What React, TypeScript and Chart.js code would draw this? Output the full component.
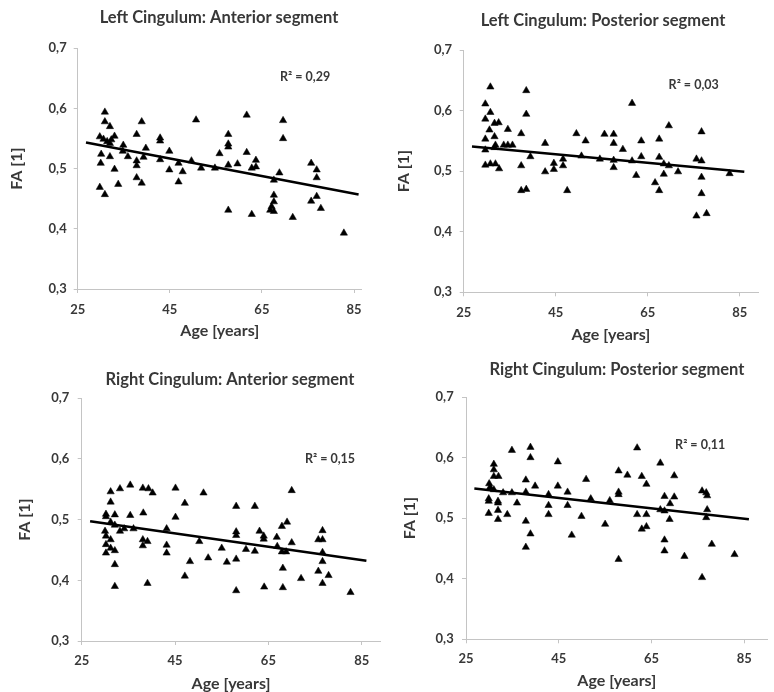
import React, { useEffect, useRef } from "react";
import { Chart, registerables } from "chart.js";
Chart.register(...registerables);

// ---------- data ----------
const titles = [
  "Left Cingulum: Anterior segment",
  "Left Cingulum: Posterior segment",
  "Right Cingulum: Anterior segment",
  "Right Cingulum: Posterior segment",
];
const r2Labels = ["R² = 0,29", "R² = 0,03", "R² = 0,15", "R² = 0,11"];
const xTickValues = [25, 45, 65, 85];
const yTickValues = [0.3, 0.4, 0.5, 0.6, 0.7];
const xAxisTitle = "Age [years]";
const yAxisTitle = "FA [1]";

// Left cingulum, anterior segment
const laAges = [30.9, 30.9, 32.0, 29.8, 30.6, 31.4, 33.0, 32.0, 30.1, 32.0, 30.0, 29.8, 30.9, 33.0, 33.8, 34.9, 35.9, 37.8, 38.9, 37.8, 37.8, 37.8, 38.9, 39.8, 39.3, 42.9, 42.9, 42.9, 44.9, 44.9, 46.9, 46.9, 47.8, 49.7, 50.7, 51.8, 54.8, 55.8, 57.7, 57.7, 57.7, 57.7, 57.7, 59.7, 61.7, 61.7, 62.8, 62.8, 63.7, 63.7, 66.8, 67.1, 67.6, 67.6, 67.6, 67.6, 68.8, 69.6, 69.6, 71.7, 75.7, 75.7, 76.9, 76.9, 76.9, 77.8, 82.8, 32.3, 34.8];
const laFA = [0.594, 0.578, 0.570, 0.553, 0.549, 0.545, 0.554, 0.542, 0.524, 0.520, 0.509, 0.469, 0.457, 0.499, 0.474, 0.539, 0.520, 0.557, 0.578, 0.513, 0.505, 0.485, 0.476, 0.534, 0.519, 0.551, 0.546, 0.515, 0.529, 0.498, 0.509, 0.478, 0.495, 0.513, 0.581, 0.501, 0.501, 0.525, 0.557, 0.541, 0.536, 0.506, 0.431, 0.508, 0.589, 0.527, 0.501, 0.424, 0.514, 0.503, 0.431, 0.437, 0.456, 0.445, 0.429, 0.481, 0.493, 0.580, 0.550, 0.419, 0.509, 0.446, 0.498, 0.485, 0.454, 0.434, 0.393, 0.548, 0.529];

// Left cingulum, posterior segment
const lpAges = [30.8, 29.7, 29.7, 30.8, 30.6, 31.7, 32.6, 29.7, 31.7, 29.7, 31.7, 31.9, 29.7, 30.8, 31.9, 32.7, 33.7, 34.6, 35.6, 34.6, 37.5, 38.6, 38.6, 37.5, 37.5, 38.6, 39.5, 42.7, 42.7, 44.6, 44.6, 46.6, 46.6, 47.5, 49.5, 50.6, 51.5, 54.6, 55.6, 57.6, 57.6, 57.6, 57.6, 59.6, 61.6, 61.6, 62.5, 63.6, 63.6, 66.6, 67.5, 67.5, 67.5, 68.5, 68.5, 69.6, 69.6, 71.6, 75.6, 75.6, 76.7, 76.7, 76.7, 76.7, 77.8, 82.8];
const lpFA = [0.639, 0.611, 0.586, 0.597, 0.568, 0.579, 0.580, 0.553, 0.557, 0.535, 0.539, 0.543, 0.510, 0.512, 0.512, 0.504, 0.543, 0.543, 0.543, 0.569, 0.562, 0.633, 0.594, 0.509, 0.468, 0.470, 0.524, 0.546, 0.499, 0.513, 0.503, 0.520, 0.509, 0.468, 0.562, 0.525, 0.550, 0.520, 0.561, 0.561, 0.546, 0.518, 0.506, 0.536, 0.612, 0.517, 0.493, 0.550, 0.524, 0.481, 0.553, 0.523, 0.468, 0.512, 0.495, 0.575, 0.509, 0.499, 0.520, 0.426, 0.565, 0.517, 0.490, 0.463, 0.430, 0.496];

// Right cingulum, anterior segment
const raAges = [31.2, 33.2, 35.4, 38.1, 39.3, 40.2, 31.2, 30.2, 30.2, 32.1, 35.4, 38.2, 31.2, 32.1, 33.2, 34.1, 36.1, 30.0, 30.2, 30.2, 30.2, 31.2, 31.2, 32.1, 32.1, 32.1, 38.1, 38.1, 39.1, 39.1, 43.2, 43.2, 43.2, 45.1, 45.1, 47.1, 47.1, 48.2, 50.2, 51.1, 52.1, 55.0, 56.1, 58.1, 58.1, 58.1, 58.1, 58.1, 60.2, 62.1, 62.1, 63.1, 64.0, 64.0, 64.1, 66.8, 67.9, 69.0, 66.9, 67.9, 68.8, 68.1, 68.1, 70.0, 70.0, 72.0, 75.7, 76.6, 76.6, 76.6, 76.6, 75.7, 76.6, 77.9, 82.6];
const raFA = [0.546, 0.551, 0.557, 0.552, 0.551, 0.544, 0.529, 0.509, 0.505, 0.508, 0.507, 0.511, 0.496, 0.491, 0.481, 0.485, 0.485, 0.481, 0.473, 0.459, 0.445, 0.467, 0.453, 0.449, 0.426, 0.390, 0.467, 0.457, 0.464, 0.395, 0.485, 0.458, 0.445, 0.552, 0.504, 0.527, 0.407, 0.431, 0.464, 0.544, 0.437, 0.453, 0.430, 0.522, 0.480, 0.474, 0.435, 0.383, 0.451, 0.522, 0.448, 0.481, 0.473, 0.468, 0.389, 0.471, 0.489, 0.496, 0.456, 0.447, 0.447, 0.420, 0.388, 0.548, 0.462, 0.403, 0.467, 0.482, 0.467, 0.446, 0.431, 0.415, 0.395, 0.408, 0.380];

// Right cingulum, posterior segment
const rpAges = [31.0, 31.0, 31.0, 32.0, 30.0, 30.2, 31.0, 33.0, 34.9, 34.9, 36.0, 29.9, 29.9, 31.9, 31.9, 29.9, 31.9, 31.9, 33.9, 37.9, 37.9, 38.9, 38.9, 39.9, 37.9, 38.9, 37.9, 42.8, 42.8, 42.8, 44.8, 44.8, 46.9, 46.9, 47.8, 49.9, 50.9, 51.9, 55.0, 56.0, 57.9, 57.9, 57.9, 57.9, 59.8, 61.9, 61.9, 62.9, 62.9, 63.9, 63.9, 63.9, 66.9, 66.9, 67.8, 67.8, 67.8, 67.8, 68.9, 69.0, 69.9, 69.9, 72.1, 75.9, 76.8, 77.0, 77.0, 76.8, 78.0, 75.9, 82.9];
const rpFA = [0.589, 0.580, 0.569, 0.569, 0.557, 0.551, 0.547, 0.542, 0.612, 0.542, 0.525, 0.532, 0.528, 0.528, 0.525, 0.508, 0.513, 0.498, 0.506, 0.563, 0.543, 0.617, 0.600, 0.553, 0.495, 0.474, 0.452, 0.539, 0.521, 0.506, 0.593, 0.553, 0.543, 0.521, 0.472, 0.503, 0.564, 0.532, 0.490, 0.529, 0.578, 0.543, 0.539, 0.432, 0.571, 0.616, 0.506, 0.569, 0.482, 0.556, 0.506, 0.486, 0.591, 0.514, 0.536, 0.512, 0.464, 0.446, 0.498, 0.524, 0.570, 0.535, 0.437, 0.545, 0.542, 0.537, 0.514, 0.501, 0.457, 0.402, 0.440];

// linear trend lines: [intercept, slope] and the age range they span
const trendLA = [0.5824, -0.001458];
const trendLP = [0.5596, -0.000705];
const trendRA = [0.5268, -0.0011];
const trendRP = [0.5719, -0.000856];
const trendRange = [26.8, 86.0];

// ---------- styling / layout ----------
const FONT = "Lato, 'Open Sans', 'DejaVu Sans', sans-serif";
const TEXT = "#383838";
const AXIS = "#c4c4c4";
const TICK_LEN = 4;
const TICK_SIZE = 13;
const AXIS_TITLE_SIZE = 16;
const TITLE_SIZE = 16.5;
const R2_SIZE = 12.5;

type PanelCfg = {
  title: string;
  ages: number[];
  fa: number[];
  trend: number[];
  r2: string;
  r2At: number[];
  xMax: number;
  box: number[];
  plotLeft: number;
  plotTop: number;
  plotBottom: number;
  pxPerYear: number;
  titleX: number;
  titleY: number;
  xLabelY: number;
  xTitleY: number;
  yTitleX: number;
  yLabelRight: number;
};

const panels: PanelCfg[] = [
  {
    title: titles[0], ages: laAges, fa: laFA, trend: trendLA, r2: r2Labels[0], r2At: [74.4, 0.652], xMax: 86.7,
    box: [0, 0, 387, 346], plotLeft: 77.7, plotTop: 48.3, plotBottom: 289, pxPerYear: 4.605,
    titleX: 219, titleY: 18, xLabelY: 310, xTitleY: 331, yTitleX: 16.7, yLabelRight: 66.7,
  },
  {
    title: titles[1], ages: lpAges, fa: lpFA, trend: trendLP, r2: r2Labels[1], r2At: [75.0, 0.642], xMax: 89,
    box: [387, 0, 387, 346], plotLeft: 463.7, plotTop: 50, plotBottom: 292.3, pxPerYear: 4.6,
    titleX: 603, titleY: 21, xLabelY: 313, xTitleY: 335, yTitleX: 403.7, yLabelRight: 452,
  },
  {
    title: titles[2], ages: raAges, fa: raFA, trend: trendRA, r2: r2Labels[2], r2At: [78.2, 0.6], xMax: 89,
    box: [0, 346, 387, 360], plotLeft: 81.7, plotTop: 398.3, plotBottom: 641, pxPerYear: 4.667,
    titleX: 230, titleY: 379.3, xLabelY: 661, xTitleY: 684.3, yTitleX: 25, yLabelRight: 69.3,
  },
  {
    title: titles[3], ages: rpAges, fa: rpFA, trend: trendRP, r2: r2Labels[3], r2At: [75.5, 0.621], xMax: 90,
    box: [387, 346, 387, 360], plotLeft: 466, plotTop: 397, plotBottom: 639.3, pxPerYear: 4.638,
    titleX: 617, titleY: 369.3, xLabelY: 659.3, xTitleY: 681, yTitleX: 410.3, yLabelRight: 453.7,
  },
];

function Panel({ p }: { p: PanelCfg }) {
  const ref = useRef<HTMLCanvasElement>(null);
  const [bx, by, bw, bh] = p.box;

  useEffect(() => {
    const plotL = p.plotLeft - bx;
    const plotR = p.plotLeft + (p.xMax - 25) * p.pxPerYear - bx;
    const plotT = p.plotTop - by;
    const plotB = p.plotBottom - by;
    const titleLH = AXIS_TITLE_SIZE * 1.2;
    const padLeft = p.yTitleX - bx - titleLH / 2;
    const yWidth = plotL - padLeft;
    const yTickPad = plotL - TICK_LEN - (p.yLabelRight - bx);
    const xTickPad = p.xLabelY - by - plotB - TICK_LEN - (TICK_SIZE * 1.2) / 2;
    const xHeight = p.xTitleY - by - plotB + titleLH / 2;
    const padBottom = bh - plotB - xHeight;
    const padRight = bw - plotR;

    const points = p.ages.map((a, i) => ({ x: a, y: p.fa[i] }));
    const trendPts = trendRange.map((a) => ({ x: a, y: p.trend[0] + p.trend[1] * a }));

    const textPlugin = {
      id: "panelText",
      afterDraw(chart: any) {
        const ctx = chart.ctx;
        ctx.save();
        ctx.fillStyle = TEXT;
        ctx.textAlign = "center";
        ctx.textBaseline = "middle";
        ctx.font = `bold ${TITLE_SIZE}px ${FONT}`;
        ctx.fillText(p.title, p.titleX - bx, p.titleY - by);
        ctx.font = `bold ${R2_SIZE}px ${FONT}`;
        const xs = chart.scales.x;
        const ys = chart.scales.y;
        ctx.fillText(p.r2, xs.getPixelForValue(p.r2At[0]), ys.getPixelForValue(p.r2At[1]));
        ctx.restore();
      },
    };

    const tickFont = { family: FONT, size: TICK_SIZE, weight: "bold" as const };
    const titleFont = { family: FONT, size: AXIS_TITLE_SIZE, weight: "bold" as const };

    const chart = new Chart(ref.current as HTMLCanvasElement, {
      type: "scatter",
      data: {
        datasets: [
          {
            data: trendPts,
            showLine: true,
            pointRadius: 0,
            borderColor: "#000",
            backgroundColor: "#000",
            borderWidth: 2.6,
            fill: false,
          },
          {
            data: points,
            pointStyle: "triangle",
            pointRadius: 4.2,
            backgroundColor: "#000",
            borderColor: "#000",
            borderWidth: 0.5,
            showLine: false,
          },
        ],
      },
      options: {
        responsive: false,
        animation: false,
        events: [],
        layout: { padding: { left: padLeft, right: padRight, top: plotT, bottom: padBottom } },
        plugins: {
          legend: { display: false },
          tooltip: { enabled: false },
          title: { display: false },
        },
        scales: {
          x: {
            type: "linear",
            min: 25,
            max: p.xMax,
            afterBuildTicks: (s: any) => {
              s.ticks = xTickValues.map((v) => ({ value: v }));
            },
            afterFit: (s: any) => {
              s.height = xHeight;
              s.paddingLeft = 0;
              s.paddingRight = 0;
            },
            grid: { drawOnChartArea: false, drawTicks: true, tickLength: TICK_LEN, color: AXIS, lineWidth: 1 },
            border: { display: true, color: AXIS, width: 1 },
            ticks: {
              padding: xTickPad,
              font: tickFont,
              color: TEXT,
              maxRotation: 0,
              autoSkip: false,
              callback: (v: any) => String(v),
            },
            title: { display: true, text: xAxisTitle, font: titleFont, color: TEXT, padding: 0 },
          },
          y: {
            type: "linear",
            min: 0.3,
            max: 0.7,
            afterBuildTicks: (s: any) => {
              s.ticks = yTickValues.map((v) => ({ value: v }));
            },
            afterFit: (s: any) => {
              s.width = yWidth;
              s.paddingTop = 0;
              s.paddingBottom = 0;
            },
            grid: { drawOnChartArea: false, drawTicks: true, tickLength: TICK_LEN, color: AXIS, lineWidth: 1 },
            border: { display: true, color: AXIS, width: 1 },
            ticks: {
              padding: yTickPad,
              font: tickFont,
              color: TEXT,
              autoSkip: false,
              callback: (v: any) => Number(v).toFixed(1).replace(".", ","),
            },
            title: { display: true, text: yAxisTitle, font: titleFont, color: TEXT, padding: 0 },
          },
        },
      },
      plugins: [textPlugin],
    } as any);
    return () => chart.destroy();
  }, [p]);

  return (
    <canvas
      ref={ref}
      width={bw}
      height={bh}
      style={{ position: "absolute", left: bx, top: by, width: bw, height: bh }}
    />
  );
}

export default function App() {
  return (
    <div
      style={{
        position: "absolute",
        left: 0,
        top: 0,
        width: 774,
        height: 692,
        overflow: "hidden",
        background: "#fff",
      }}
    >
      {panels.map((p, i) => (
        <Panel key={i} p={p} />
      ))}
    </div>
  );
}
